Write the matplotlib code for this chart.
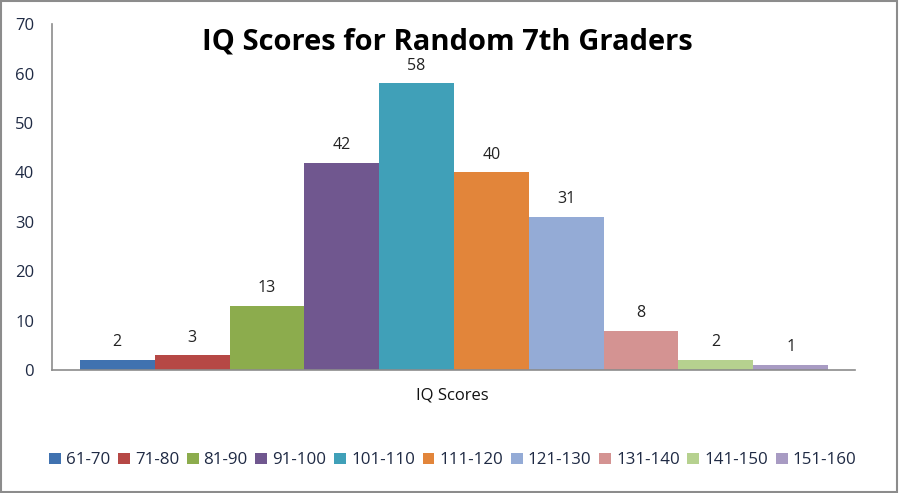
import matplotlib
matplotlib.use('Agg')
from matplotlib import pyplot as plt
from matplotlib.patches import Rectangle

ranges = ['61-70', '71-80', '81-90', '91-100', '101-110',
          '111-120', '121-130', '131-140', '141-150', '151-160']
counts = [2, 3, 13, 42, 58, 40, 31, 8, 2, 1]
colors = ['#4072B0', '#B64845', '#8CAC4D', '#70578F', '#40A0B8',
          '#E2853A', '#94ABD6', '#D49392', '#B6D18F', '#A89BC3']
yticks = [0, 10, 20, 30, 40, 50, 60, 70]

plt.rcParams['font.family'] = ['Open Sans', 'DejaVu Sans']
txt = '#1F2A44'

fig = plt.figure(figsize=(9, 4.93), dpi=100)
ax = fig.add_axes([0.058, 0.249, 0.892, 0.702])

for i, (r, c, col) in enumerate(zip(ranges, counts, colors)):
    ax.bar(i, c, width=1.0, color=col, label=r)
    ax.text(i, c + 2.0, str(c), ha='center', va='bottom', fontsize=11.5, color='#222222')

ax.set_xlim(-0.87, 9.86)
ax.set_ylim(0, 70)
ax.set_yticks(yticks)
ax.set_xticks([])
ax.tick_params(axis='y', length=0, pad=13, labelsize=12, labelcolor=txt)
for s in ['top', 'right']:
    ax.spines[s].set_visible(False)
for s in ['left', 'bottom']:
    ax.spines[s].set_color('#8C8C8C')
    ax.spines[s].set_linewidth(1.2)

fig.text(0.497, 0.915, 'IQ Scores for Random 7th Graders', ha='center', va='center',
         fontsize=21, fontweight='bold', color='black')
fig.text(0.503, 0.197, 'IQ Scores', ha='center', va='center', fontsize=12, color='#111111')

fig.legend(loc='center', bbox_to_anchor=(0.503, 0.066), ncol=10, frameon=False,
           fontsize=12.2, handlelength=0.7, handleheight=0.7, handletextpad=0.3,
           columnspacing=0.45, labelcolor=txt)

fig.patches.append(Rectangle((0.001, 0.003), 0.996, 0.994, transform=fig.transFigure,
                             fill=False, edgecolor='#8C8C8C', linewidth=1.5))

fig.savefig('out.png', dpi=100)
